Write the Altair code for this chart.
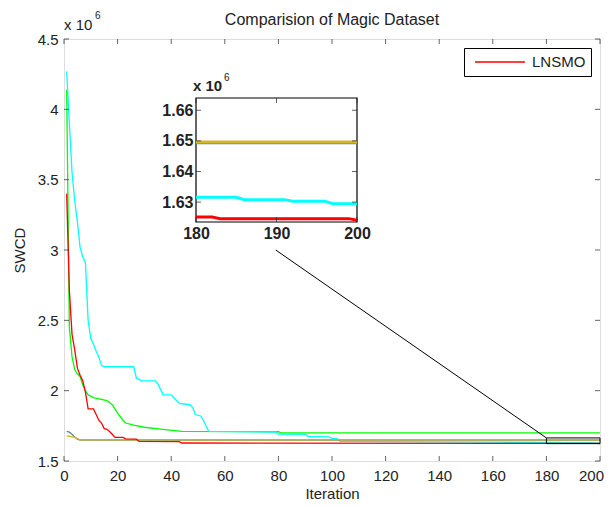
import altair as alt
import pandas as pd

# ---------------- data (SWCD in units of 1e6) ----------------
series_names = ["LNSMO", "Algorithm 2", "Algorithm 3", "Algorithm 4", "Algorithm 5"]
series_colors = ["#ff0000", "#00ff00", "#00ffff", "#d9b526", "#5a8a86"]

red_iter = [1, 2, 3, 4, 5, 6, 7, 8, 9, 11, 12, 13, 14, 15, 16, 17, 18, 19, 22, 23, 27, 28, 43, 44, 180, 182, 183, 199, 200]
red_swcd = [3.40, 2.71, 2.40, 2.29, 2.16, 2.11, 2.07, 1.99, 1.87, 1.87, 1.83, 1.79, 1.77, 1.73, 1.725, 1.71, 1.69, 1.668,
            1.668, 1.657, 1.655, 1.640, 1.638, 1.628, 1.6251, 1.6251, 1.6246, 1.6246, 1.6241]

green_iter = [1, 2, 3, 4, 5, 6, 7, 8, 9, 11, 16, 18, 20, 22, 23, 26, 30, 36, 44, 80, 81, 180, 200]
green_swcd = [4.14, 2.45, 2.24, 2.15, 2.12, 2.10, 2.04, 2.00, 1.97, 1.95, 1.93, 1.90, 1.84, 1.79, 1.77, 1.755, 1.74,
              1.727, 1.71, 1.708, 1.70, 1.70, 1.70]

cyan_iter = [1, 2, 3, 4, 5, 6, 7, 8, 9, 10, 11, 12, 13, 14, 15, 26, 27, 29, 34, 35, 37, 40, 41, 43, 47, 48, 49, 51, 52, 54,
             79, 80, 90, 91, 99, 100, 102, 103, 160, 180, 185, 186, 191, 192, 196, 197, 200]
cyan_swcd = [4.27, 3.90, 3.55, 3.35, 3.20, 3.02, 2.95, 2.91, 2.50, 2.37, 2.33, 2.28, 2.24, 2.18, 2.17, 2.17, 2.09, 2.07,
             2.07, 2.05, 1.97, 1.97, 1.95, 1.91, 1.90, 1.88, 1.83, 1.82, 1.79, 1.71, 1.706, 1.692, 1.690, 1.675, 1.672,
             1.660, 1.658, 1.640, 1.634, 1.6316, 1.6316, 1.6308, 1.6308, 1.6303, 1.6303, 1.6295, 1.6295]

yellow_iter = [1, 2, 3, 4, 5, 6, 180, 200]
yellow_swcd = [1.678, 1.676, 1.672, 1.668, 1.660, 1.6496, 1.6496, 1.6496]

dark_iter = [1, 2, 3, 4, 5, 6, 180, 200]
dark_swcd = [1.710, 1.705, 1.690, 1.670, 1.655, 1.6494, 1.6494, 1.6494]

# drawing order (first drawn at the bottom)
draw_order = [1, 2, 4, 3, 0]
all_iters = [red_iter, green_iter, cyan_iter, yellow_iter, dark_iter]
all_swcd = [red_swcd, green_swcd, cyan_swcd, yellow_swcd, dark_swcd]

# axes
x_domain = [0, 200]
y_domain = [1.5, 4.5]
x_ticks = [0, 20, 40, 60, 80, 100, 120, 140, 160, 180, 200]
y_ticks = [1.5, 2.0, 2.5, 3.0, 3.5, 4.0, 4.5]

# inset (zoom of iterations 180-200)
inset_x_domain = [180, 200]
inset_y_domain = [1.6235, 1.664]
inset_x_ticks = [180, 190, 200]
inset_y_ticks = [1.63, 1.64, 1.65, 1.66]
inset_x_range = [132, 293]
inset_y_range = [183, 59]
inset_series = [4, 3, 2, 0]  # dark, yellow, cyan, red (green lies above the zoom window)

# connector line from inset to zoomed region (main data coordinates)
connector_iter = [79, 180]
connector_swcd = [3.0, 1.664]

W, H = 536, 422
FONT = "Liberation Sans"
TXT = "#222222"

color_scale = alt.Scale(domain=series_names, range=series_colors)
legend = alt.Legend(title=None, orient="none", legendX=400, legendY=9, values=["LNSMO"],
                    symbolType="stroke", symbolSize=2500, symbolStrokeWidth=1.3, clipHeight=18,
                    labelFontSize=15, labelFont=FONT, labelColor=TXT, padding=5,
                    strokeColor="black", fillColor="white", cornerRadius=0,
                    symbolOffset=5, labelOffset=6)


def xs():
    return alt.Scale(domain=x_domain, nice=False, zero=False)


def ys():
    return alt.Scale(domain=y_domain, nice=False, zero=False)


def ixs():
    return alt.Scale(domain=inset_x_domain, range=inset_x_range, nice=False, zero=False)


def iys():
    return alt.Scale(domain=inset_y_domain, range=inset_y_range, nice=False, zero=False)


units = []

# ---------------- main panel ----------------
first = True
for k in draw_order:
    df = pd.DataFrame({"iter": all_iters[k], "swcd": all_swcd[k], "series": series_names[k]})
    ch = alt.Chart(df).mark_line(strokeWidth=1.3, clip=True).encode(
        x=alt.X("iter:Q", scale=xs(),
                axis=alt.Axis(values=x_ticks, title="Iteration", grid=False, domain=False, ticks=False,
                              labelFlush=False, labelPadding=7, labelFontSize=15, labelFont=FONT,
                              labelOffset=alt.ExprRef(f"datum.value == {x_domain[1]} ? -9 : 0"),
                              labelColor=TXT, titleFontSize=15, titleFont=FONT, titleFontWeight="normal",
                              titleColor=TXT, titlePadding=3) if first else None),
        y=alt.Y("swcd:Q", scale=ys(),
                axis=alt.Axis(values=y_ticks, title="SWCD", grid=False, domain=False, ticks=False,
                              labelFlush=False, labelPadding=6, format=".1~f", labelFontSize=15,
                              labelFont=FONT, labelColor=TXT, titleFontSize=15, titleFont=FONT,
                              titleFontWeight="normal", titleColor=TXT, titlePadding=10) if first else None),
        color=alt.Color("series:N", scale=color_scale, legend=legend),
    )
    first = False
    units.append(ch)


def tick_layer(vals, fixed, vertical, offset, sx, sy):
    df = pd.DataFrame({"v": vals, "f": [fixed] * len(vals)})
    if vertical:
        m = alt.Chart(df).mark_tick(orient="vertical", size=5, thickness=1, color="#222", yOffset=offset)
        return m.encode(x=alt.X("v:Q", scale=sx, axis=None), y=alt.Y("f:Q", scale=sy, axis=None))
    m = alt.Chart(df).mark_tick(orient="horizontal", size=5, thickness=1, color="#222", xOffset=offset)
    return m.encode(y=alt.Y("v:Q", scale=sy, axis=None), x=alt.X("f:Q", scale=sx, axis=None))


units += [
    tick_layer(x_ticks, y_domain[0], True, -2.5, xs(), ys()),
    tick_layer(x_ticks, y_domain[1], True, 2.5, xs(), ys()),
    tick_layer(y_ticks, x_domain[0], False, 2.5, xs(), ys()),
    tick_layer(y_ticks, x_domain[1], False, -2.5, xs(), ys()),
]

box_df = pd.DataFrame({"x": [inset_x_domain[0]], "x2": [inset_x_domain[1]],
                       "y": [inset_y_domain[0]], "y2": [inset_y_domain[1]]})
units.append(alt.Chart(box_df).mark_rect(fill=None, stroke="black", strokeWidth=1).encode(
    x=alt.X("x:Q", scale=xs(), axis=None), x2="x2:Q", y=alt.Y("y:Q", scale=ys(), axis=None), y2="y2:Q"))

con_df = pd.DataFrame({"x": [connector_iter[0]], "x2": [connector_iter[1]],
                       "y": [connector_swcd[0]], "y2": [connector_swcd[1]]})
units.append(alt.Chart(con_df).mark_rule(color="black", strokeWidth=1).encode(
    x=alt.X("x:Q", scale=xs(), axis=None), x2="x2:Q", y=alt.Y("y:Q", scale=ys(), axis=None), y2="y2:Q"))

exp_df = pd.DataFrame({"x": [x_domain[0]], "y": [y_domain[1]]})
units.append(alt.Chart(exp_df).mark_text(text="x 10", align="left", baseline="alphabetic", dy=-9, dx=0,
                                         fontSize=15, font=FONT, color=TXT).encode(
    x=alt.X("x:Q", scale=xs(), axis=None), y=alt.Y("y:Q", scale=ys(), axis=None)))
units.append(alt.Chart(exp_df).mark_text(text="6", align="left", baseline="alphabetic", dy=-20, dx=31,
                                         fontSize=10, font=FONT, color=TXT).encode(
    x=alt.X("x:Q", scale=xs(), axis=None), y=alt.Y("y:Q", scale=ys(), axis=None)))

# ---------------- inset panel ----------------
units.append(alt.Chart(box_df).mark_rect(fill="white", stroke="black", strokeWidth=1.2).encode(
    x=alt.X("x:Q", scale=ixs(),
            axis=alt.Axis(orient="bottom", offset=-(H - inset_y_range[0]), values=inset_x_ticks, title=None,
                          grid=False, domain=False, ticks=False, labelFlush=False, labelPadding=3,
                          labelFontSize=16, labelFontWeight="bold", labelFont=FONT, labelColor=TXT)),
    x2="x2:Q",
    y=alt.Y("y:Q", scale=iys(),
            axis=alt.Axis(orient="left", offset=-inset_x_range[0], values=inset_y_ticks, title=None, format=".2f",
                          grid=False, domain=False, ticks=False, labelFlush=False, labelPadding=3,
                          labelFontSize=16, labelFontWeight="bold", labelFont=FONT, labelColor=TXT)),
    y2="y2:Q"))

for k in inset_series:
    df = pd.DataFrame({"iter": all_iters[k], "swcd": all_swcd[k], "series": series_names[k]})
    df = df[df["iter"] >= inset_x_domain[0]]
    units.append(alt.Chart(df).mark_line(strokeWidth=3).encode(
        x=alt.X("iter:Q", scale=ixs(), axis=None),
        y=alt.Y("swcd:Q", scale=iys(), axis=None),
        color=alt.Color("series:N", scale=color_scale, legend=legend),
    ))

units += [
    tick_layer(inset_x_ticks, inset_y_domain[0], True, -2.5, ixs(), iys()),
    tick_layer(inset_x_ticks, inset_y_domain[1], True, 2.5, ixs(), iys()),
    tick_layer(inset_y_ticks, inset_x_domain[0], False, 2.5, ixs(), iys()),
    tick_layer(inset_y_ticks, inset_x_domain[1], False, -2.5, ixs(), iys()),
]

iexp_df = pd.DataFrame({"x": [inset_x_domain[0]], "y": [inset_y_domain[1]]})
units.append(alt.Chart(iexp_df).mark_text(text="x 10", align="left", baseline="alphabetic", dy=-7, dx=-3,
                                          fontSize=15, fontWeight="bold", font=FONT, color=TXT).encode(
    x=alt.X("x:Q", scale=ixs(), axis=None), y=alt.Y("y:Q", scale=iys(), axis=None)))
units.append(alt.Chart(iexp_df).mark_text(text="6", align="left", baseline="alphabetic", dy=-17, dx=28,
                                          fontSize=10, font=FONT, color=TXT).encode(
    x=alt.X("x:Q", scale=ixs(), axis=None), y=alt.Y("y:Q", scale=iys(), axis=None)))

chart = alt.layer(*units).resolve_scale(x="independent", y="independent", color="shared").properties(
    width=W, height=H,
    autosize=alt.AutoSizeParams(type="none"),
    padding={"left": 56, "top": 31, "right": 4, "bottom": 46},
    title=alt.TitleParams("Comparision of Magic Dataset", fontSize=16, fontWeight="normal", font=FONT,
                          color=TXT, anchor="middle", frame="group", offset=0, dy=17),
).configure_view(stroke="black", strokeWidth=1.2).configure(background="white")

chart.save("out.html", embed_options={"renderer": "svg", "actions": False})
